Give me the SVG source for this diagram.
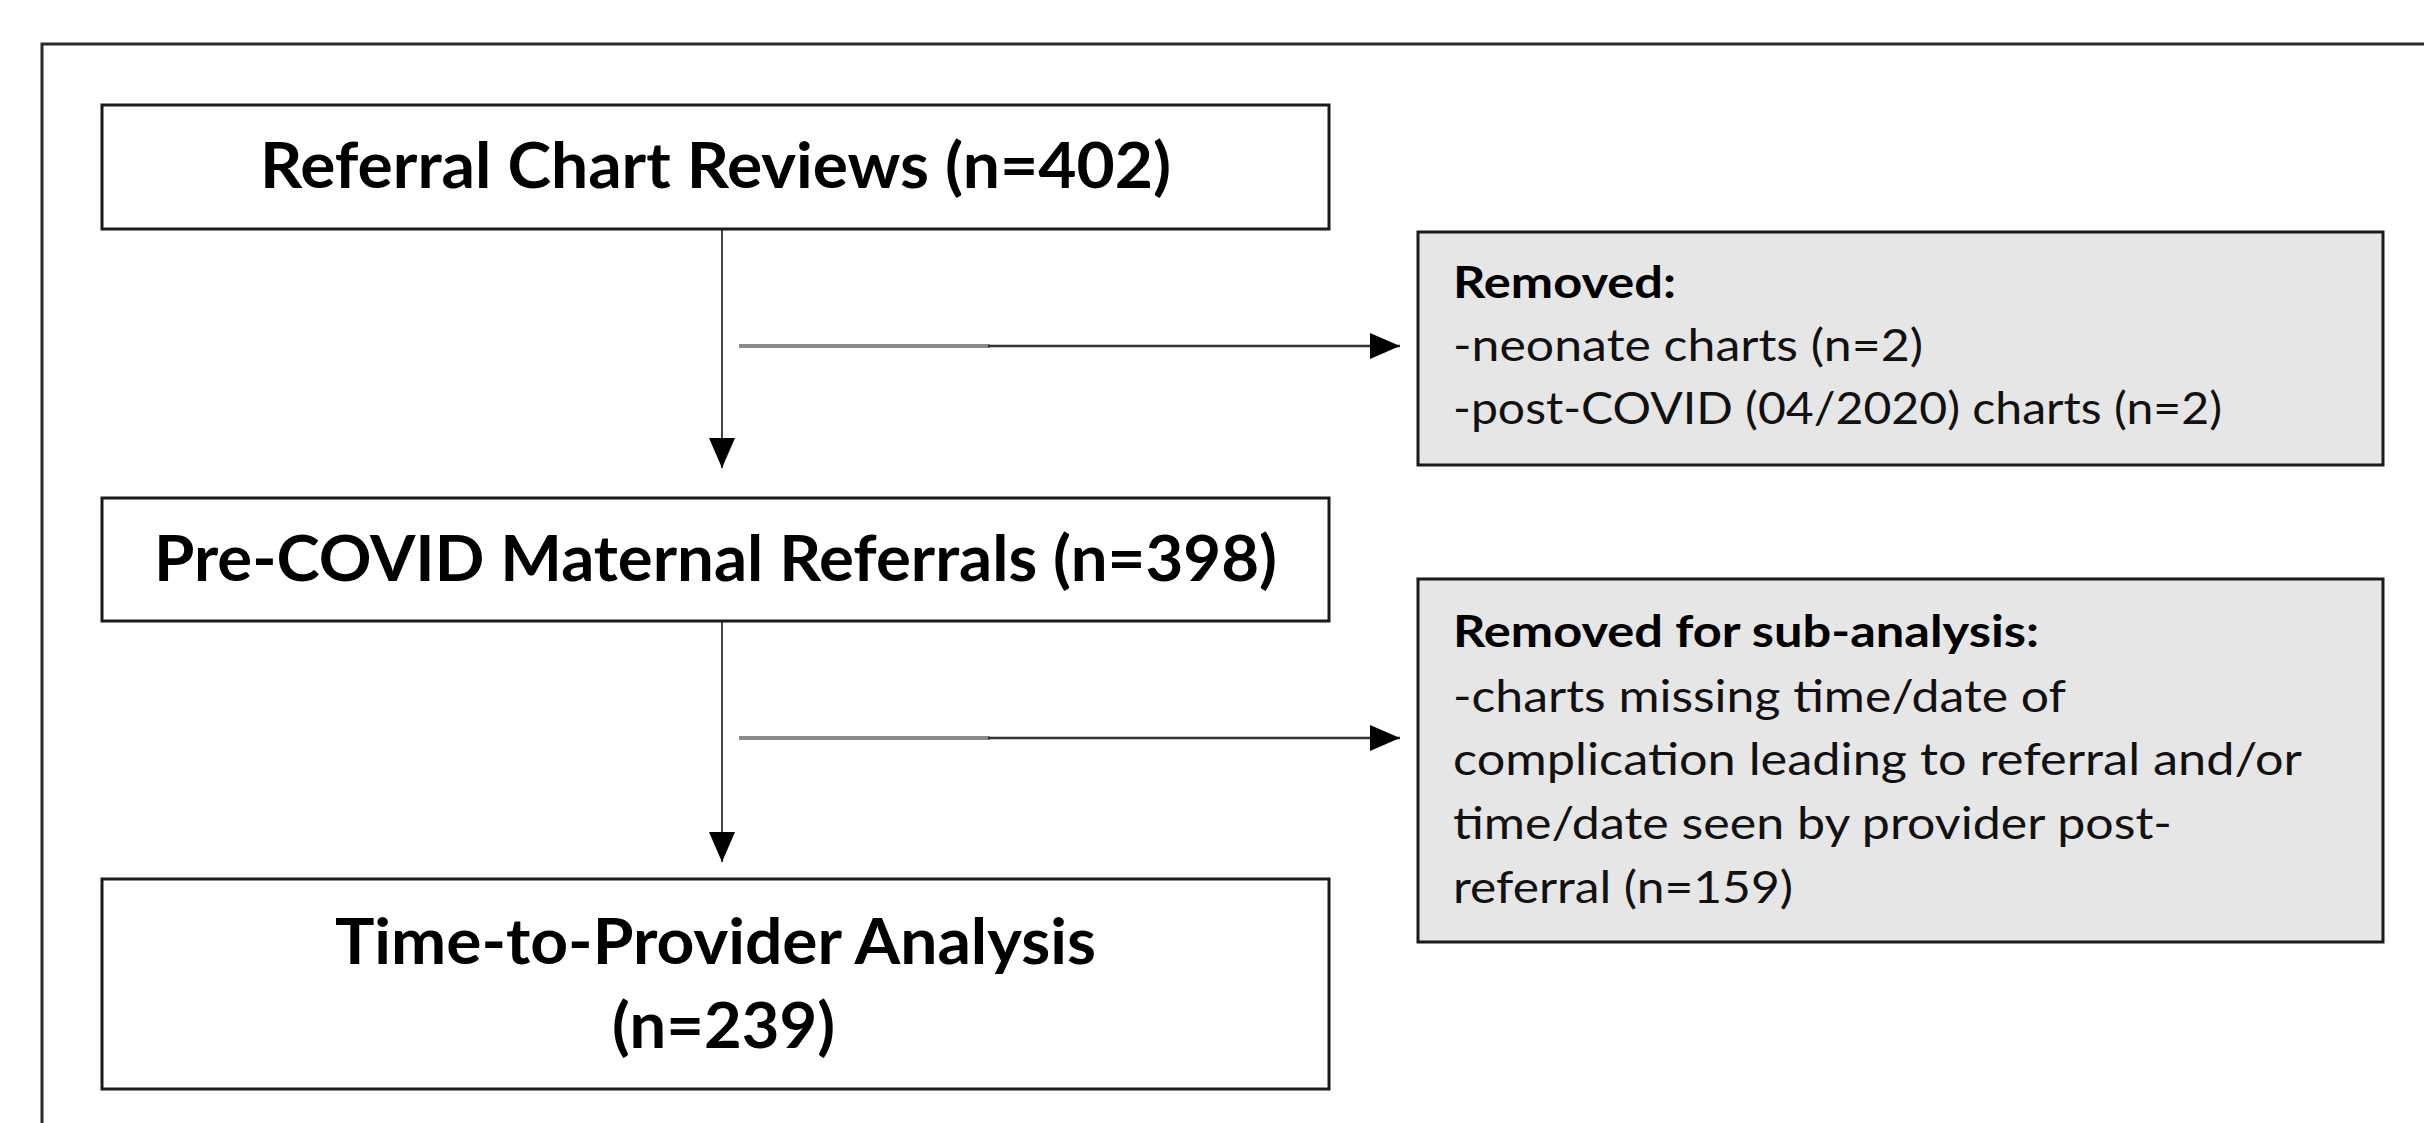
<svg xmlns="http://www.w3.org/2000/svg" width="2424" height="1123" viewBox="0 0 2424 1123">
<defs>
<style>
.box{fill:#ffffff;stroke:#1a1a1a;stroke-width:3}
.gbox{fill:#e7e6e7;stroke:#1a1a1a;stroke-width:3}
.title{font-family:Lato,"Liberation Sans",sans-serif;font-weight:700;font-size:64px;fill:#000;text-anchor:middle}
.note{font-family:Lato,"Liberation Sans",sans-serif;font-size:44px;fill:#111}
.noteb{font-family:Lato,"Liberation Sans",sans-serif;font-size:44px;font-weight:700;fill:#000}
.ln{stroke:#444;stroke-width:2;fill:none}
.lg{stroke:#8a8a8a;stroke-width:4;fill:none}
.ld{stroke:#333;stroke-width:2.5;fill:none}
.frame{stroke:#2a2a2a;stroke-width:3;fill:none}
</style>
<marker id="ah" viewBox="0 0 30 26" refX="30" refY="13" markerWidth="30" markerHeight="26" markerUnits="userSpaceOnUse" orient="auto">
<path d="M0,0 L30,13 L0,26 Z" fill="#000"/>
</marker>
</defs>
<rect x="0" y="0" width="2424" height="1123" fill="#ffffff"/>
<path class="frame" d="M42,1123 L42,44 L2424,44"/>

<g id="connectors">
<line class="ln" x1="722" y1="229" x2="722" y2="468" marker-end="url(#ah)"/>
<line class="ln" x1="722" y1="621" x2="722" y2="862" marker-end="url(#ah)"/>
<line class="lg" x1="739" y1="346" x2="990" y2="346"/>
<line class="ld" x1="988" y1="346" x2="1400" y2="346" marker-end="url(#ah)"/>
<line class="lg" x1="739" y1="738" x2="990" y2="738"/>
<line class="ld" x1="988" y1="738" x2="1400" y2="738" marker-end="url(#ah)"/>
</g>

<g id="node-referral">
<rect class="box" x="102" y="105" width="1227" height="124"/>
<text class="title" x="715.5" y="188" textLength="911" lengthAdjust="spacingAndGlyphs">Referral Chart Reviews (n=402)</text>
</g>

<g id="node-precovid">
<rect class="box" x="102" y="498" width="1227" height="123"/>
<text class="title" x="715.5" y="581" textLength="1123" lengthAdjust="spacingAndGlyphs">Pre-COVID Maternal Referrals (n=398)</text>
</g>

<g id="node-analysis">
<rect class="box" x="102" y="879" width="1227" height="210"/>
<text class="title" x="715.5" y="964" textLength="761" lengthAdjust="spacingAndGlyphs">Time-to-Provider Analysis</text>
<text class="title" x="723.5" y="1048" textLength="223" lengthAdjust="spacingAndGlyphs">(n=239)</text>
</g>

<g id="node-removed">
<rect class="gbox" x="1418" y="232" width="965" height="233"/>
<text class="noteb" x="1453" y="298" textLength="223" lengthAdjust="spacingAndGlyphs">Removed:</text>
<text class="note" x="1453" y="361" textLength="470" lengthAdjust="spacingAndGlyphs">-neonate charts (n=2)</text>
<text class="note" x="1453" y="424" textLength="769" lengthAdjust="spacingAndGlyphs">-post-COVID (04/2020) charts (n=2)</text>
</g>

<g id="node-removed-sub">
<rect class="gbox" x="1418" y="579" width="965" height="363"/>
<text class="noteb" x="1453" y="647" textLength="586" lengthAdjust="spacingAndGlyphs">Removed for sub-analysis:</text>
<text class="note" x="1453" y="712" textLength="613" lengthAdjust="spacingAndGlyphs">-charts missing time/date of</text>
<text class="note" x="1453" y="775" textLength="849" lengthAdjust="spacingAndGlyphs">complication leading to referral and/or</text>
<text class="note" x="1453" y="839" textLength="719" lengthAdjust="spacingAndGlyphs">time/date seen by provider post-</text>
<text class="note" x="1453" y="903" textLength="340" lengthAdjust="spacingAndGlyphs">referral (n=159)</text>
</g>
</svg>
